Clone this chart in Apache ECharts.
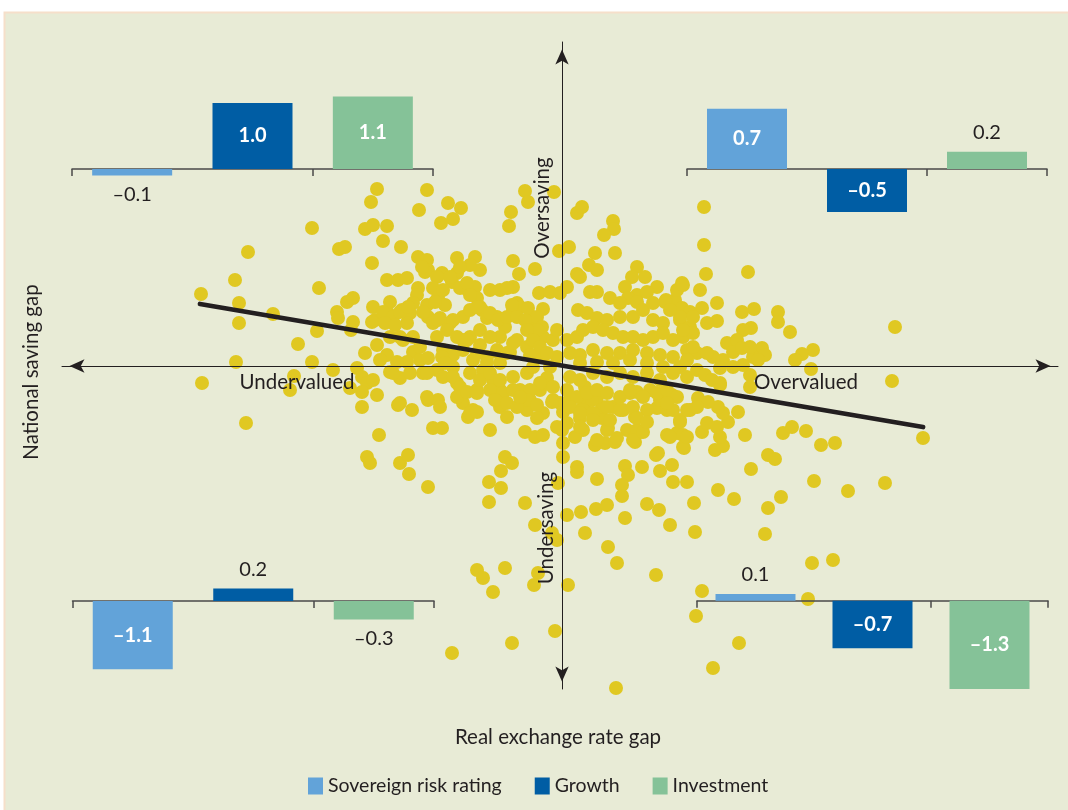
<!DOCTYPE html>
<html>
<head>
<meta charset="utf-8">
<script src="https://cdn.jsdelivr.net/npm/echarts@6/dist/echarts.min.js"></script>
<style>
html,body{margin:0;padding:0;background:#ffffff;}
#chart{width:1068px;height:810px;}
</style>
</head>
<body>
<div id="chart"></div>
<script>
// Scatter: [real exchange rate gap, national saving gap]
const points = [
[-36.1,7.2],[-31.4,11.4],[-32.7,8.6],[-32.3,6.3],[-32.3,4.3],[-28.9,5.2],[-32.6,0.4],[-36.0,-1.7],[-31.6,-5.7],[-25.0,13.8],
[-24.3,7.8],[-24.5,3.5],[-26.4,2.2],[-25.0,0.4],[-26.8,-1.0],[-27.2,-2.4],[-18.5,17.7],[-19.1,16.4],[-19.7,13.7],[-18.9,14.1],
[-17.5,14.0],[-17.9,12.5],[-22.3,11.7],[-21.7,11.9],[-19.0,10.3],[-16.1,11.9],[-13.5,17.6],[-14.3,15.6],[-11.4,16.3],[-10.1,15.8],
[-12.1,14.3],[-10.9,14.7],[-3.7,17.5],[-3.4,16.4],[-0.8,17.4],[-5.1,15.4],[-5.3,14.0],[-0.3,11.5],[0.7,11.9],[-4.9,10.5],
[-2.7,9.7],[-4.3,9.2],[1.5,9.2],[1.5,15.3],[2.0,15.9],[-2.3,7.3],[-1.2,7.4],[-1.9,5.7],[0.5,7.9],[3.3,11.3],
[2.7,10.1],[-17.5,8.6],[-16.4,8.6],[-15.5,8.8],[-14.4,10.9],[-13.5,10.6],[-13.4,9.6],[-13.7,9.4],[-12.0,9.3],[-12.5,8.9],
[-10.5,10.8],[-8.7,10.9],[-8.2,9.6],[-10.5,9.3],[-11.0,8.4],[-14.4,7.8],[-14.5,7.1],[-12.9,7.8],[-12.4,6.9],[-9.7,7.8],
[-8.7,7.9],[-8.5,6.8],[-7.2,7.6],[-6.2,7.6],[-4.9,7.9],[-4.5,6.3],[-22.5,5.4],[-22.4,4.8],[-21.5,6.4],[-20.9,6.8],
[-20.9,4.4],[-21.1,3.6],[-18.9,5.9],[-17.2,6.4],[-17.4,5.3],[-18.7,4.6],[-19.0,4.4],[-16.0,5.6],[-15.2,5.3],[-15.5,4.3],
[-14.9,6.3],[-13.5,6.1],[-13.4,4.9],[-12.9,4.3],[-12.2,4.8],[-11.7,6.1],[-11.2,4.3],[-9.9,4.9],[-9.2,5.6],[-8.0,5.6],
[-7.5,4.8],[-6.5,4.9],[-5.7,3.9],[-4.9,5.6],[-4.2,5.9],[-3.0,4.9],[-2.9,3.9],[-1.9,2.9],[-19.7,1.3],[-18.5,2.1],
[-17.5,1.1],[-18.2,0.6],[-16.2,2.9],[-14.9,2.9],[-14.9,1.4],[-15.5,0.4],[-14.2,0.6],[-13.4,0.8],[-12.5,2.9],[-11.9,1.6],
[-10.9,1.1],[-9.9,2.6],[-9.2,2.9],[-8.2,2.1],[-7.5,0.9],[-6.5,1.4],[-6.2,2.9],[-5.2,1.4],[-4.5,2.6],[-3.5,1.9],
[-2.7,0.9],[-1.9,0.9],[-1.2,-0.1],[-0.5,0.9],[-22.9,-0.4],[-20.5,-0.2],[-20.0,-1.1],[-19.5,-1.7],[-20.0,-2.6],[-21.2,-2.2],
[-18.5,-2.9],[-18.9,-1.4],[-20.0,-4.1],[-18.3,-6.9],[-17.2,-0.6],[-16.2,-1.2],[-16.4,-3.9],[-15.0,-4.4],[-13.4,-3.4],[-12.4,-3.4],
[-12.9,-6.2],[-12.0,-6.2],[-13.9,-0.7],[-12.5,-0.4],[-11.9,-1.1],[-10.9,-0.1],[-10.5,-1.7],[-9.9,-3.7],[-9.2,-0.7],[-8.5,-2.4],
[-8.9,-4.4],[-9.4,-5.1],[-7.9,-0.4],[-6.9,-1.4],[-6.2,-2.4],[-6.2,-4.1],[-5.5,-5.1],[-7.2,-6.4],[-4.9,-1.1],[-4.2,-2.4],
[-3.2,-3.4],[-2.2,-2.4],[-1.5,-1.7],[-0.9,-3.4],[-1.9,-4.7],[-3.7,-6.6],[-2.7,-7.1],[-1.9,-6.9],[-19.5,-9.1],[-19.2,-9.7],
[-16.2,-9.7],[-15.4,-8.9],[-5.7,-9.1],[-5.0,-9.7],[0.1,-9.1],[0.1,-7.7],[0.0,-6.4],[-0.2,-3.7],[0.8,-3.4],[1.8,-4.4],
[1.5,-10.1],
[33.3,3.9],[33.0,-1.5],[36.1,-7.2],[25.1,1.6],[24.0,1.2],[23.3,0.6],[24.9,-0.3],[22.8,3.4],[21.6,5.4],[21.6,4.4],
[19.2,5.7],[18.0,5.4],[15.5,6.3],[15.5,4.5],[14.0,5.8],[13.8,7.6],[18.9,3.8],[18.1,3.6],[20.0,1.8],[20.3,1.1],
[19.1,0.9],[19.6,0.6],[18.8,-0.9],[17.6,-4.6],[18.3,-6.9],[22.1,-6.7],[23.0,-6.1],[24.4,-6.5],[25.9,-7.9],[27.3,-7.7],
[20.6,-8.9],[21.3,-9.3],[18.9,-10.3],[25.2,-11.5],[28.6,-12.5],[32.3,-11.7],[21.9,-13.1],[20.6,-14.2],[20.3,-16.8],[25.0,-19.7],
[27.1,-19.4],[15.6,-12.4],[17.2,-13.3],[13.2,-13.7],[13.3,-16.6],[12.5,-11.6],[11.1,-11.6],[11.0,-9.9],[9.8,-10.5],[9.4,-8.9],
[8.0,-10.1],[6.3,-10.0],[6.6,-10.9],[6.0,-11.9],[6.0,-13.0],[3.5,-11.3],[1.5,-10.6],[-0.4,-11.7],[-3.7,-13.7],[0.5,-14.9],
[1.9,-14.6],[3.4,-14.3],[4.5,-13.9],[6.3,-15.2],[8.5,-13.8],[9.7,-14.4],[10.8,-15.9],[2.3,-16.7],[-2.7,-15.9],[-0.5,-17.4],
[4.6,-18.1],[5.5,-19.7],[9.4,-20.9],[12.2,-8.2],[10.5,-6.9],[11.5,-6.7],[12.1,-6.9],[14.0,-6.6],[14.5,-5.7],[15.3,-8.4],
[16.1,-8.0],[15.8,-7.1],[15.5,-6.1],[16.6,-5.6],[16.1,-4.7],[15.6,-4.1],[12.8,-4.4],[11.8,-5.4],[7.3,-5.1],[7.8,-6.6],
[6.5,-6.4],[7.3,-7.6],[3.3,-7.9],[4.3,-7.7],[5.3,-7.6],[4.6,-6.2],[4.0,-5.2],[2.1,-6.4],[1.3,-7.1],[0.5,-5.7],
[-0.5,-6.1],[0.1,-4.6],[2.3,-4.4],[1.8,-5.2],[-2.5,-5.2],[-3.5,-4.4],[-1.0,-3.6],[9.5,-4.2],[10.5,-4.4],[11.0,-2.9],
[9.8,-3.4],[13.6,-3.2],[14.6,-3.6],[15.8,-1.9],[6.1,-4.4],[5.1,-4.1],[4.0,-4.1],[3.5,-3.1],[7.5,-2.6],[8.8,-2.4],
[6.8,-2.7],[0.8,-3.2],[2.0,-3.2],[3.0,-3.4],[2.3,-2.1],
[5.1,14.5],[5.2,13.7],[4.2,13.1],[14.2,15.9],[14.2,12.1],[14.4,9.2],[18.6,9.4],[5.3,11.3],[3.5,9.6],[7.5,9.9],
[7.0,8.9],[8.3,8.9],[6.3,7.9],[9.5,7.9],[12.0,8.3],[3.5,7.4],[11.3,6.6],[10.4,6.6],[7.5,7.1],[8.5,7.4],
[4.8,6.8],[6.6,6.8],
[-15.3,-10.8],[-13.4,-12.1],[-6.1,-10.5],[-7.3,-11.6],[-6.1,-12.2],[-7.3,-13.6],[-1.0,-16.7],[-8.5,-20.4],[-7.9,-21.2],[-6.9,-22.6],
[-5.7,-20.2],[-2.4,-20.7],[-2.8,-21.9],[0.6,-21.9],[-0.7,-26.5],[-5.0,-27.7],[-11.0,-28.7],
[14.0,-22.5],[13.4,-25.0],[17.7,-27.7],[15.1,-30.2],[5.4,-32.2],[24.6,-23.3],
[-9.2,10.1],[-10.2,9.9],[-11.2,8.9],[-14.0,9.9],[-11.9,7.6],[-12.7,6.4],[-10.2,7.8],[-9.5,8.3],[-9.2,7.1],[-8.2,5.9],
[-5.5,7.8],[-0.2,7.3],[-5.0,6.1],[-3.4,5.8],[-2.5,4.9],[-17.9,5.4],[-16.9,4.9],[-16.2,5.4],[-15.4,5.9],[-12.4,4.6],
[-13.9,5.4],[-10.9,4.6],[-8.5,5.9],[-7.2,5.3],[-6.4,4.6],[-5.5,4.9],[-4.5,4.9],[-3.7,4.6],[-2.0,3.9],[-2.5,3.6],
[1.8,8.9],[2.8,7.4],[5.8,6.3],[7.5,6.4],[10.3,6.4],[12.0,5.8],[12.8,5.4],[1.6,5.6],[2.5,5.3],[3.5,4.8],
[4.5,4.6],[5.8,4.9],[7.1,4.9],[8.1,5.6],[9.1,4.6],[10.1,4.3],[11.8,4.6],[12.8,3.9],[-17.7,4.3],[-16.7,4.1],
[-17.2,2.9],[-15.9,2.6],[-14.2,1.9],[-16.5,0.4],[-11.5,3.6],[-10.5,2.9],[-9.5,2.6],[-9.9,1.6],[-12.0,0.9],[-11.7,0.3],
[-8.2,3.6],[-7.2,2.9],[-6.5,1.6],[-5.5,1.3],[-4.9,2.3],[-3.5,3.6],[-2.9,2.6],[-2.2,1.9],[-3.2,1.1],[-1.5,1.3],
[-0.9,2.6],[-0.5,3.6],[-8.5,1.3],[-8.9,0.6],[-7.5,0.4],[-6.2,0.3],[0.5,2.6],[1.5,2.9],[2.1,3.6],[3.1,3.9],
[4.1,3.6],[5.1,3.3],[6.1,2.9],[7.1,2.9],[8.1,2.6],[9.1,2.9],[10.1,3.3],[11.1,2.6],[12.1,2.9],[13.1,3.3],
[0.8,1.3],[1.8,1.1],[3.1,1.6],[4.5,1.3],[5.8,1.3],[7.1,1.6],[8.5,1.3],[9.8,1.1],[11.1,0.9],[12.5,1.6],
[13.5,1.3],[1.8,0.3],[3.5,0.4],[5.1,0.3],[6.8,0.6],[8.5,0.3],[10.1,-0.1],[11.8,-0.1],[-16.9,-0.7],[-15.2,-0.7],
[-13.5,-0.7],[-10.9,-1.1],[-10.2,-2.1],[-10.5,-3.1],[-9.5,-2.6],[-8.5,-2.7],[-8.2,-1.4],[-7.2,-0.7],[-6.2,-1.4],[-7.2,-2.4],
[-5.9,-2.7],[-4.9,-2.4],[-3.5,-0.7],[-2.9,-0.1],[-1.5,-1.2],[-0.9,-2.1],[-2.2,-1.7],[-3.2,-2.4],[-3.5,-3.4],[-2.5,-3.9],
[-6.7,-3.4],[-5.5,-3.7],[-4.5,-4.1],[-4.2,-3.1],[-16.2,-3.7],[-13.5,-3.1],[-12.2,-4.1],[-9.2,-4.7],[-8.5,-4.6],[0.8,-1.1],
[1.8,-1.4],[3.1,-0.7],[4.5,-1.1],[5.8,-0.7],[7.1,-1.1],[8.5,-0.7],[9.8,-1.4],[11.1,-0.7],[12.5,-1.1],[13.5,-0.4],
[0.5,-2.4],[1.5,-3.1],[2.5,-2.7],[3.5,-2.4],[4.5,-2.7],[5.8,-3.1],[6.8,-2.4],[8.1,-3.1],[9.5,-2.7],[10.5,-2.4],
[11.5,-3.1],[0.8,-4.1],[2.1,-4.4],[3.1,-4.7],[4.5,-4.1],[5.8,-4.4],[7.1,-4.1],[8.5,-4.4],[11.1,-4.4],[12.5,-4.4],
[13.5,-4.1],[1.8,-6.1],[3.1,-5.4],[4.5,-6.4],[3.5,-7.4],[5.5,-7.2],[7.5,-6.4],[7.1,-7.4],[8.1,-6.6],[1.8,-4.7],
[4.8,-5.4],[7.5,-5.2],[8.5,-5.6],[10.5,-3.7],[11.8,-5.6],[9.6,-8.7],[12.1,-8.1],[10.8,-7.1],[12.5,-7.1],
[16.5,2.3],[17.5,2.6],[17.1,1.4],[18.0,1.8],[18.8,1.9],[16.1,0.6],[15.1,0.9],[14.5,1.3],[15.8,-0.2],[17.1,-0.1],
[18.1,0.1],[18.8,-2.1],[14.3,-0.9],[15.0,-1.4],[15.8,-1.7],[12.5,0.6],[13.1,1.9],[12.1,3.6],[14.5,4.3],[13.1,4.9],
[11.8,4.9],[10.8,5.6],[9.1,6.3],[11.5,7.6],[12.1,8.1]
];
// Fitted line end points
const trendX = [-36.2, 36.1];
const trendY = [6.2, -6.1];

// Inset bar charts
const barCategories = ['Sovereign risk rating', 'Growth', 'Investment'];
const upperLeftValues = [-0.1, 1.0, 1.1];
const upperRightValues = [0.7, -0.5, 0.2];
const lowerLeftValues = [-1.1, 0.2, -0.3];
const lowerRightValues = [0.1, -0.7, -1.3];

const barColors = ['#62a3d9', '#005da4', '#85c298'];
const FONT = 'Lato';
const INK = '#231f20';

const insets = [
  {values: upperLeftValues,  left: 72,  width: 361, base: 169,   scale: 66, ymax: 1.2, ymin: -0.3},
  {values: upperRightValues, left: 687, width: 360, base: 169,   scale: 86, ymax: 0.8, ymin: -0.6},
  {values: lowerLeftValues,  left: 72.5,width: 361.5, base: 601, scale: 62, ymax: 0.4, ymin: -1.3},
  {values: lowerRightValues, left: 697, width: 351, base: 600.7, scale: 68, ymax: 0.3, ymin: -1.5}
];

const fmt = v => v.toFixed(1).replace('-', '\u2013');

const grids = [{left: 62, right: 10, top: 42, bottom: 121, containLabel: false}];
const xAxes = [{
  gridIndex: 0, type: 'value', min: -50, max: 49.6, z: 4,
  axisLine: {show: true, onZero: true, symbol: ['arrow', 'arrow'], symbolSize: [10, 15], symbolOffset: [7.5, -7.5],
             lineStyle: {color: INK, width: 1}},
  axisTick: {show: false}, axisLabel: {show: false}, splitLine: {show: false}
}];
const yAxes = [{
  gridIndex: 0, type: 'value', min: -32.3, max: 32.4, z: 4,
  axisLine: {show: true, onZero: true, symbol: ['arrow', 'arrow'], symbolSize: [10, 15], symbolOffset: [7.5, -7.5],
             lineStyle: {color: INK, width: 1}},
  axisTick: {show: false}, axisLabel: {show: false}, splitLine: {show: false}
}];
const series = [
  {
    type: 'scatter', xAxisIndex: 0, yAxisIndex: 0, data: points, symbolSize: 14, z: 2,
    itemStyle: {color: '#e0c822', opacity: 1}, silent: true
  },
  {
    type: 'line', xAxisIndex: 0, yAxisIndex: 0, z: 6, symbol: 'none', silent: true,
    data: trendX.map((x, i) => [x, trendY[i]]),
    lineStyle: {color: INK, width: 4.8, cap: 'round'}
  }
];

insets.forEach((ins, k) => {
  const gi = k + 1;
  const top = ins.base - ins.scale * ins.ymax;
  const height = ins.scale * (ins.ymax - ins.ymin);
  grids.push({left: ins.left, width: ins.width, top: top, height: height});
  xAxes.push({
    gridIndex: gi, type: 'category', data: barCategories, z: 3,
    axisLine: {show: true, onZero: true, lineStyle: {color: '#4a4a4a', width: 1.5}},
    axisTick: {show: true, length: 7, lineStyle: {color: '#4a4a4a', width: 1.5}},
    axisLabel: {show: false}, splitLine: {show: false}
  });
  yAxes.push({gridIndex: gi, type: 'value', min: ins.ymin, max: ins.ymax, show: false, splitLine: {show: false}});
  barCategories.forEach((name, i) => {
    series.push({
      type: 'bar', name: name, xAxisIndex: gi, yAxisIndex: gi, barWidth: 80, barGap: '-100%', z: 3,
      itemStyle: {color: barColors[i]},
      data: ins.values.map((v, j) => {
        if (j !== i) return '-';
        const big = Math.abs(v) >= 0.5;
        return {
          value: v,
          label: big
            ? {show: true, position: 'inside', color: '#ffffff', fontWeight: 'bold', fontSize: 20, fontFamily: FONT, formatter: p => fmt(p.value)}
            : {show: true, position: 'outside', distance: 9, color: INK, fontSize: 20, fontFamily: FONT, formatter: p => fmt(p.value)}
        };
      })
    });
  });
});

const textStyle = (t, size) => ({text: t, fontSize: size, fontFamily: FONT, fill: INK, align: 'center', verticalAlign: 'middle'});

const option = {
  animation: false,
  backgroundColor: '#ffffff',
  grid: grids,
  xAxis: xAxes,
  yAxis: yAxes,
  series: series,
  legend: {
    data: barCategories, left: 308, top: 776, padding: 0, icon: 'rect', itemWidth: 15, itemHeight: 17, itemGap: 33,
    selectedMode: false,
    textStyle: {fontFamily: FONT, fontSize: 19.5, color: INK}
  },
  graphic: [
    {type: 'rect', z: -10, silent: true, shape: {x: 4.5, y: 12.5, width: 1070, height: 805},
     style: {fill: '#e8ebd6', stroke: '#f6dfca', lineWidth: 2}},
    {type: 'text', z: 20, x: 31, y: 372, rotation: Math.PI / 2, style: textStyle('National saving gap', 20.5)},
    {type: 'text', z: 20, x: 558, y: 737, style: textStyle('Real exchange rate gap', 20.5)},
    {type: 'text', z: 20, x: 542, y: 208, rotation: Math.PI / 2, style: textStyle('Oversaving', 20.5)},
    {type: 'text', z: 20, x: 546, y: 528, rotation: Math.PI / 2, style: textStyle('Undersaving', 20.5)},
    {type: 'text', z: 20, x: 297, y: 382, style: textStyle('Undervalued', 20.5)},
    {type: 'text', z: 20, x: 806, y: 382, style: textStyle('Overvalued', 20.5)}
  ]
};

const chart = echarts.init(document.getElementById('chart'), null, {renderer: 'canvas'});
chart.setOption(option);
</script>
</body>
</html>
